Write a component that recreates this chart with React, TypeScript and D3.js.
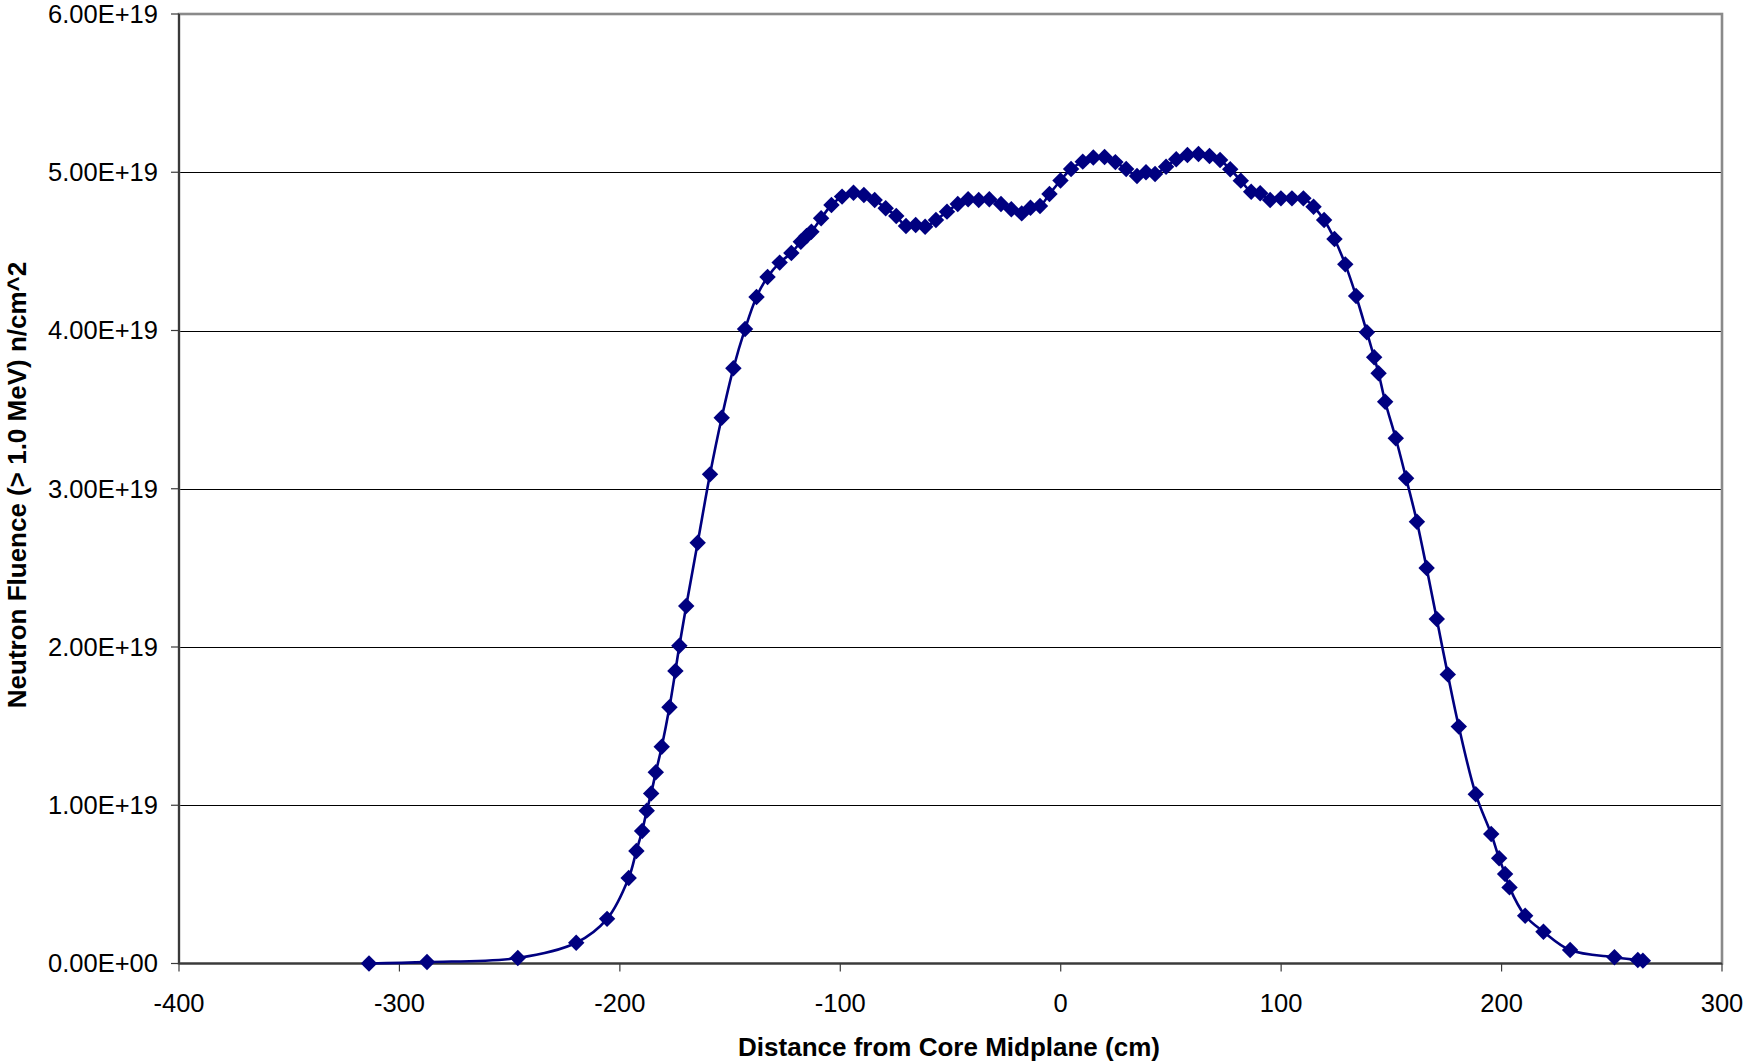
import React from "react";
import * as d3 from "d3";

// distance from core midplane (cm)
const distance = [
  -313.8, -287.5, -246.3, -219.8, -205.8, -196.0, -192.5, -189.9, -187.8, -185.8,
  -183.7, -181.0, -177.5, -174.8, -173.0, -169.9, -164.7, -159.1, -153.8, -148.5,
  -143.2, -138.0, -133.0, -127.5, -122.2, -117.9, -115.3, -113.1, -108.7, -104.0,
  -99.2, -94.0, -89.3, -84.4, -79.4, -74.6, -70.2, -65.8, -61.5, -56.6,
  -51.6, -46.7, -42.0, -37.2, -32.4, -27.1, -22.4, -17.7, -13.7, -9.4,
  -5.1, -0.1, 4.7, 10.0, 14.8, 19.9, 24.8, 29.7, 34.6, 38.7,
  42.8, 47.8, 52.4, 57.5, 62.5, 67.5, 72.3, 76.9, 81.7, 86.4,
  90.5, 95.0, 99.9, 104.9, 110.1, 114.7, 119.5, 124.2, 129.1, 134.0,
  138.9, 142.2, 144.2, 147.2, 152.0, 156.7, 161.6, 166.0, 170.6, 175.6,
  180.6, 188.3, 195.3, 198.9, 201.6, 203.6, 210.7, 219.0, 231.1, 251.2,
  261.8, 264.1,
];

// neutron fluence (> 1.0 MeV), in units of 1e19 n/cm^2
const fluenceE19 = [
  0.0, 0.009, 0.035, 0.131, 0.282, 0.54, 0.711, 0.837, 0.966, 1.075,
  1.208, 1.37, 1.619, 1.849, 2.008, 2.259, 2.659, 3.091, 3.449, 3.761,
  4.01, 4.212, 4.338, 4.429, 4.49, 4.561, 4.597, 4.624, 4.709, 4.793,
  4.846, 4.871, 4.856, 4.825, 4.772, 4.724, 4.66, 4.667, 4.656, 4.698,
  4.751, 4.799, 4.829, 4.825, 4.829, 4.799, 4.766, 4.74, 4.776, 4.787,
  4.862, 4.948, 5.02, 5.067, 5.093, 5.096, 5.064, 5.02, 4.976, 5.0,
  4.989, 5.035, 5.082, 5.109, 5.115, 5.103, 5.077, 5.019, 4.947, 4.877,
  4.867, 4.825, 4.835, 4.835, 4.835, 4.782, 4.698, 4.578, 4.418, 4.218,
  3.989, 3.831, 3.73, 3.55, 3.319, 3.066, 2.792, 2.499, 2.177, 1.827,
  1.497, 1.069, 0.818, 0.665, 0.566, 0.481, 0.302, 0.201, 0.085, 0.039,
  0.022, 0.018,
];

const xTicks = [-400, -300, -200, -100, 0, 100, 200, 300];
const yTicks = [0, 1e19, 2e19, 3e19, 4e19, 5e19, 6e19];

const W = 1747;
const H = 1062;
const left = 179, right = 1722, top = 14, bottom = 963.5;

function sci(v: number) {
  const [m, e] = v.toExponential(2).split("e");
  const sign = e[0] === "-" ? "-" : "+";
  const digits = e.replace(/[+-]/, "").padStart(2, "0");
  return m + "E" + sign + digits;
}

export default function App() {
  const x = d3.scaleLinear().domain([-400, 300]).range([left, right]);
  const y = d3.scaleLinear().domain([0, 6e19]).range([bottom, top]);

  const pts = distance.map((d, i) => ({ x: d, y: fluenceE19[i] * 1e19 }));

  const line = d3
    .line<{ x: number; y: number }>()
    .x((d) => x(d.x))
    .y((d) => y(d.y))
    .curve(d3.curveCatmullRom.alpha(0.5));

  // Excel-style diamond: a square turned 45 degrees
  const diamond = d3.symbol().type(d3.symbolSquare).size(135)();

  const font = "'Liberation Sans', Arial, sans-serif";

  return (
    <div style={{ position: "absolute", left: 0, top: 0 }}>
      <svg width={W} height={H} style={{ display: "block", background: "#fff" }} fontFamily={font}>
        {/* gridlines */}
        {yTicks.slice(1, -1).map((t) => (
          <line
            key={t}
            x1={left}
            x2={right}
            y1={Math.round(y(t)) + 0.5}
            y2={Math.round(y(t)) + 0.5}
            stroke="#000"
            strokeWidth={1}
            shapeRendering="crispEdges"
          />
        ))}
        {/* plot border */}
        <rect x={left} y={top} width={right - left} height={bottom - top} fill="none" stroke="#8a8a8a" strokeWidth={2.6} />
        {/* axes */}
        <line x1={left} x2={left} y1={top} y2={bottom} stroke="#3a3a3a" strokeWidth={2} />
        <line x1={left} x2={right} y1={bottom} y2={bottom} stroke="#3a3a3a" strokeWidth={2} />
        {yTicks.map((t) => (
          <g key={t}>
            <line x1={left - 8} x2={left} y1={y(t)} y2={y(t)} stroke="#3a3a3a" strokeWidth={1.2} />
            <text x={158} y={y(t)} dy="0.35em" textAnchor="end" fontSize={25.5} fill="#000">
              {sci(t)}
            </text>
          </g>
        ))}
        {xTicks.map((t) => (
          <g key={t}>
            <line x1={x(t)} x2={x(t)} y1={bottom} y2={bottom + 8} stroke="#3a3a3a" strokeWidth={1.2} />
            <text x={x(t)} y={1011.5} textAnchor="middle" fontSize={25.5} fill="#000">
              {t}
            </text>
          </g>
        ))}
        {/* series */}
        <path d={line(pts) || ""} fill="none" stroke="#000080" strokeWidth={2.6} />
        {pts.map((p, i) => (
          <path
            key={i}
            d={diamond || ""}
            transform={`translate(${x(p.x)},${y(p.y)}) rotate(45)`}
            fill="#000080"
          />
        ))}
        {/* axis titles */}
        <text x={949} y={1056} textAnchor="middle" fontSize={26} fontWeight="bold" fill="#000">
          Distance from Core Midplane (cm)
        </text>
        <text
          transform={`translate(26,485) rotate(-90)`}
          textAnchor="middle"
          fontSize={26}
          fontWeight="bold"
          fill="#000"
        >
          Neutron Fluence (&gt; 1.0 MeV) n/cm^2
        </text>
      </svg>
    </div>
  );
}
